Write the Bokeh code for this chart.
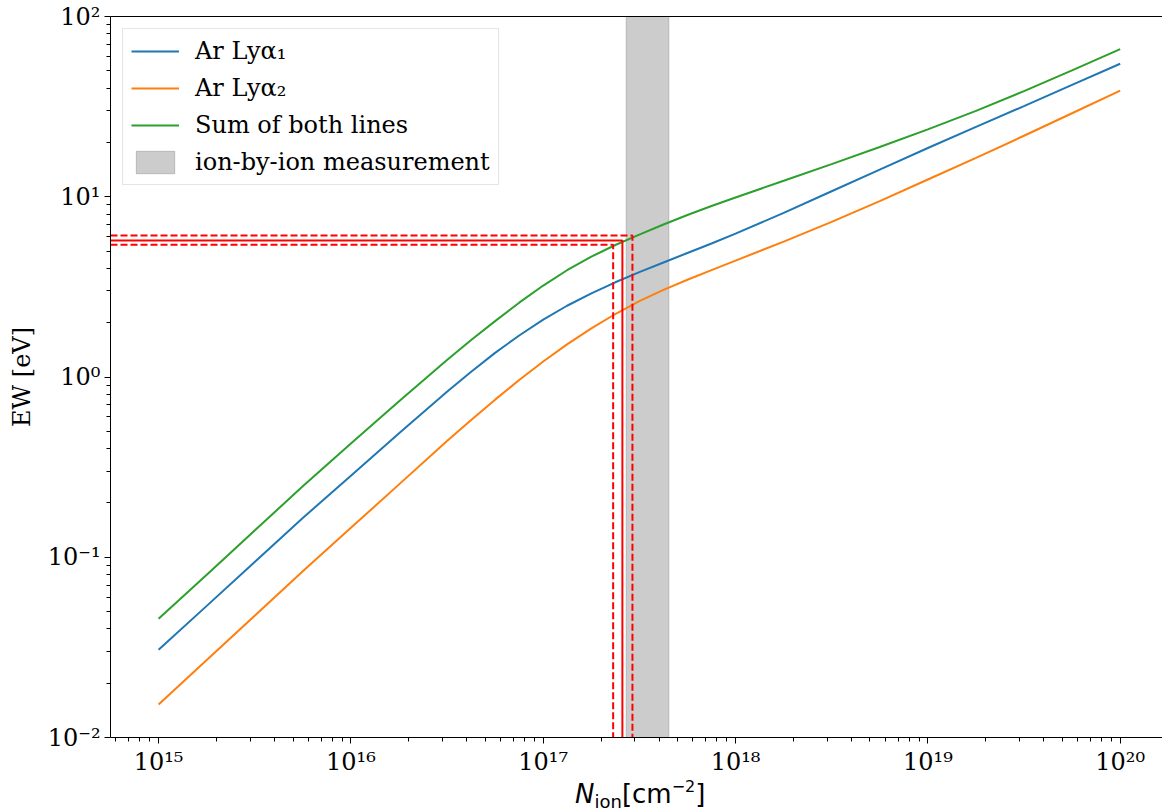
from bokeh.plotting import figure
from bokeh.models import Range1d, FixedTicker, LogAxis, Legend, LegendItem, Div
from bokeh.layouts import column
from bokeh.embed import file_html
from bokeh.resources import INLINE

# ---------------- data ----------------
N_ion = [1.0e15, 1.78e15, 3.16e15, 5.62e15, 1.0e16, 1.78e16, 3.16e16, 4.22e16,
         5.62e16, 7.50e16, 1.0e17, 1.33e17, 1.78e17, 2.37e17, 3.16e17, 4.22e17,
         5.62e17, 7.50e17, 1.0e18, 1.78e18, 3.16e18, 5.62e18, 1.0e19, 1.78e19,
         3.16e19, 5.62e19, 1.0e20]
ew_lya1 = [0.03065, 0.05374, 0.09419, 0.1651, 0.2836, 0.4872, 0.8274, 1.069,
           1.361, 1.699, 2.079, 2.485, 2.911, 3.353, 3.817, 4.320,
           4.875, 5.502, 6.245, 8.138, 10.73, 14.14, 18.64, 24.43,
           31.84, 41.73, 54.70]
ew_lya2 = [0.01524, 0.02688, 0.04738, 0.08354, 0.1456, 0.2537, 0.4420, 0.5778,
           0.7488, 0.9620, 1.218, 1.516, 1.860, 2.236, 2.635, 3.043,
           3.463, 3.920, 4.424, 5.634, 7.259, 9.459, 12.47, 16.44,
           21.79, 29.06, 38.75]
ew_sum = [0.04556, 0.08008, 0.1408, 0.2474, 0.4276, 0.7345, 1.244, 1.603,
          2.041, 2.584, 3.216, 3.911, 4.648, 5.399, 6.163, 7.017,
          7.915, 8.882, 9.911, 12.27, 15.18, 18.89, 23.63, 29.93,
          38.56, 50.24, 65.85]

band_N = [2.7e17, 4.5e17]                 # ion-by-ion measurement range
meas_N = [2.31e17, 2.58e17, 2.91e17]      # low, best, high column density
meas_EW = [5.41, 5.71, 6.09]              # low, best, high equivalent width

series_labels = ["Ar Lyα₁", "Ar Lyα₂", "Sum of both lines", "ion-by-ion measurement"]

x_ticks = [1e15, 1e16, 1e17, 1e18, 1e19, 1e20]
x_tick_labels = ["10¹⁵", "10¹⁶", "10¹⁷", "10¹⁸", "10¹⁹", "10²⁰"]
y_ticks = [1e-2, 1e-1, 1e0, 1e1, 1e2]
y_tick_labels = ["10⁻²", "10⁻¹", "10⁰", "10¹", "10²"]

x_lim = (10 ** 14.75, 10 ** 20.22)
y_lim = (1e-2, 1e2)

# ---------------- figure ----------------
p = figure(width=1162, height=778, x_axis_type="log", y_axis_type="log",
           x_range=Range1d(*x_lim), y_range=Range1d(*y_lim),
           output_backend="svg", toolbar_location=None, title=None,
           min_border_left=110, min_border_right=0, min_border_top=16,
           min_border_bottom=41)
p.outline_line_color = None
p.grid.visible = False
p.background_fill_color = "white"

band = p.quad(left=[band_N[0]], right=[band_N[1]], bottom=[y_lim[0]], top=[y_lim[1]],
              fill_color="gray", fill_alpha=0.4, line_color="gray", line_alpha=0.4,
              line_width=1)

r1 = p.line(N_ion, ew_lya1, line_color="#1f77b4", line_width=2)
r2 = p.line(N_ion, ew_lya2, line_color="#ff7f0e", line_width=2)
r3 = p.line(N_ion, ew_sum, line_color="#2ca02c", line_width=2)

for i, (n, e) in enumerate(zip(meas_N, meas_EW)):
    p.line([x_lim[0], n, n], [e, e, y_lim[0]], line_color="red", line_width=2,
           line_dash="solid" if i == 1 else "7 3")

# ---------------- axes ----------------
x_minor = [k * 10 ** d for d in range(14, 21) for k in range(2, 10)]
y_minor = [k * 10.0 ** d for d in range(-2, 2) for k in range(2, 10)]

xa = p.xaxis[0]
ya = p.yaxis[0]
xa.ticker = FixedTicker(ticks=x_ticks, minor_ticks=x_minor)
ya.ticker = FixedTicker(ticks=y_ticks, minor_ticks=y_minor)
xa.major_label_overrides = dict(zip(x_ticks, x_tick_labels))
ya.major_label_overrides = dict(zip(y_ticks, y_tick_labels))

for ax in (xa, ya):
    ax.axis_line_color = "black"
    ax.axis_line_width = 1
    ax.major_tick_line_color = "black"
    ax.minor_tick_line_color = "black"
    ax.major_tick_out = 6
    ax.major_tick_in = 0
    ax.minor_tick_out = 4
    ax.minor_tick_in = 0
    ax.major_label_text_font = "DejaVu Serif"
    ax.major_label_text_font_size = "24px"
    ax.major_label_text_color = "black"
    ax.major_label_standoff = 4

ya.axis_label = "EW [eV]"
ya.axis_label_text_font = "DejaVu Serif"
ya.axis_label_text_font_size = "24px"
ya.axis_label_text_font_style = "normal"
ya.axis_label_text_color = "black"
ya.axis_label_standoff = 9

top = LogAxis(ticker=FixedTicker(ticks=[]), major_tick_out=0, major_tick_in=0,
              minor_tick_out=0, minor_tick_in=0, major_label_text_font_size="0px",
              major_label_standoff=0, axis_line_color="black", axis_line_width=1)
p.add_layout(top, "above")

# ---------------- legend ----------------
legend = Legend(items=[LegendItem(label=series_labels[0], renderers=[r1]),
                       LegendItem(label=series_labels[1], renderers=[r2]),
                       LegendItem(label=series_labels[2], renderers=[r3]),
                       LegendItem(label=series_labels[3], renderers=[band])],
                location="top_left", margin=12, padding=8, spacing=9,
                glyph_width=48, glyph_height=28, label_standoff=16,
                label_text_font="DejaVu Serif", label_text_font_size="24px",
                label_text_color="black", border_line_color="#cccccc",
                border_line_width=1, background_fill_color="white",
                background_fill_alpha=0.8)
p.add_layout(legend)

# ---------------- x axis label (HTML text below the plot) ----------------
xlabel = Div(
    text=('<span style="font-family: \'DejaVu Sans\'; font-size: 26px; line-height: 32px; '
          'color: black; white-space: nowrap;"><i>N</i>'
          '<sub style="font-size: 18px; line-height: 0; vertical-align: -5px;">ion</sub>'
          '[cm<sup style="font-size: 16px; line-height: 0; vertical-align: 11px;">−2</sup>]</span>'),
    width=300, height=32, margin=(0, 0, 0, 575),
    styles={"line-height": "32px"})

layout = column(p, xlabel, spacing=0)

open("out.html", "w", encoding="utf-8").write(file_html(layout, INLINE))
